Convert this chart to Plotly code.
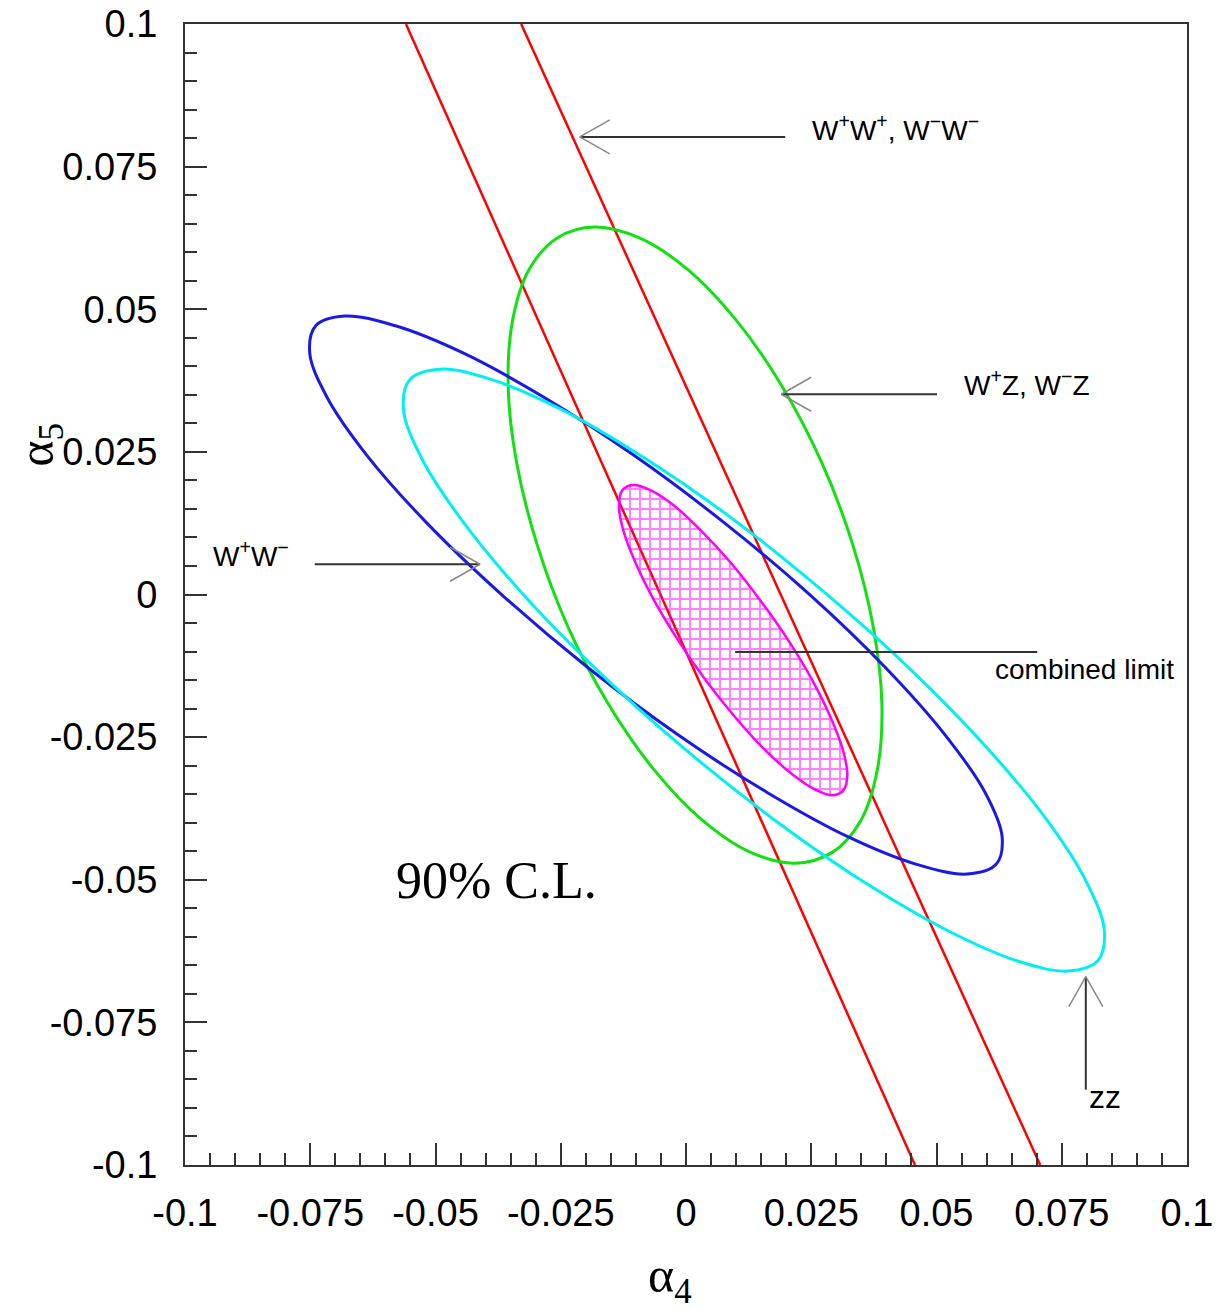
import plotly.graph_objects as go

# ---------------- data ----------------
# W+W+, W-W- band: two straight red lines
red_left_x = [-0.0559, 0.0457]
red_left_y = [0.1, -0.1]
red_right_x = [-0.0329, 0.0707]
red_right_y = [0.1, -0.1]

# W+Z, W-Z contour (green)
green_x = [-0.0182, -0.0093, 0.0003, 0.0100, 0.0191, 0.0271, 0.0333, 0.0374, 0.0391, 0.0382,
           0.0349, 0.0292, 0.0218, 0.0129, 0.0033, -0.0064, -0.0155, -0.0235, -0.0297, -0.0338,
           -0.0355, -0.0346, -0.0313, -0.0257]
green_y = [0.0644, 0.0625, 0.0570, 0.0481, 0.0366, 0.0231, 0.0087, -0.0058, -0.0192, -0.0307,
           -0.0396, -0.0452, -0.0471, -0.0452, -0.0396, -0.0307, -0.0192, -0.0058, 0.0087, 0.0231,
           0.0366, 0.0481, 0.0570, 0.0625]

# W+W- contour (blue)
blue_x = [-0.0681, -0.0580, -0.0444, -0.0282, -0.0104, 0.0076, 0.0248, 0.0398, 0.0517, 0.0597,
          0.0631, 0.0619, 0.0561, 0.0460, 0.0324, 0.0162, -0.0016, -0.0196, -0.0367, -0.0518,
          -0.0637, -0.0716, -0.0751, -0.0739]
blue_y = [0.0488, 0.0471, 0.0423, 0.0345, 0.0244, 0.0126, -0.0001, -0.0128, -0.0246, -0.0347,
          -0.0425, -0.0473, -0.0490, -0.0473, -0.0425, -0.0347, -0.0246, -0.0128, -0.0001, 0.0126,
          0.0244, 0.0345, 0.0423, 0.0471]

# ZZ contour (cyan)
cyan_x = [-0.0491, -0.0389, -0.0250, -0.0086, 0.0094, 0.0276, 0.0449, 0.0601, 0.0721, 0.0800,
          0.0835, 0.0822, 0.0762, 0.0660, 0.0522, 0.0357, 0.0178, -0.0005, -0.0178, -0.0329,
          -0.0449, -0.0529, -0.0564, -0.0551]
cyan_y = [0.0395, 0.0377, 0.0325, 0.0241, 0.0132, 0.0004, -0.0132, -0.0269, -0.0396, -0.0505,
          -0.0589, -0.0642, -0.0660, -0.0642, -0.0589, -0.0505, -0.0396, -0.0269, -0.0132, 0.0004,
          0.0132, 0.0241, 0.0325, 0.0377]

# combined limit (magenta, hatched)
comb_x = [-0.0106, -0.0071, -0.0024, 0.0030, 0.0089, 0.0148, 0.0204, 0.0252, 0.0289, 0.0313,
          0.0322, 0.0315, 0.0293, 0.0258, 0.0212, 0.0157, 0.0099, 0.0039, -0.0016, -0.0064,
          -0.0101, -0.0125, -0.0134, -0.0127]
comb_y = [0.0192, 0.0183, 0.0156, 0.0112, 0.0056, -0.0010, -0.0080, -0.0150, -0.0216, -0.0272,
          -0.0315, -0.0342, -0.0352, -0.0342, -0.0315, -0.0272, -0.0216, -0.0150, -0.0080, -0.0010,
          0.0056, 0.0112, 0.0156, 0.0183]

tick_vals = [-0.1, -0.075, -0.05, -0.025, 0, 0.025, 0.05, 0.075, 0.1]
tick_text = ["-0.1", "-0.075", "-0.05", "-0.025", "0", "0.025", "0.05", "0.075", "0.1"]

# ---------------- figure ----------------
fig = go.Figure()

def closed(v):
    return list(v) + [v[0]]

fig.add_trace(go.Scatter(x=red_left_x, y=red_left_y, mode="lines",
                         line=dict(color="#ff0000", width=2.5), hoverinfo="skip"))
fig.add_trace(go.Scatter(x=red_right_x, y=red_right_y, mode="lines",
                         line=dict(color="#ff0000", width=2.5), hoverinfo="skip"))
fig.add_trace(go.Scatter(x=closed(green_x), y=closed(green_y), mode="lines",
                         line=dict(color="#11e011", width=3, shape="spline", smoothing=1.0)))
fig.add_trace(go.Scatter(x=closed(blue_x), y=closed(blue_y), mode="lines",
                         line=dict(color="#1a1ae6", width=3, shape="spline", smoothing=1.0)))
fig.add_trace(go.Scatter(x=closed(cyan_x), y=closed(cyan_y), mode="lines",
                         line=dict(color="#00f0f0", width=3, shape="spline", smoothing=1.0)))
fig.add_trace(go.Scatter(x=closed(comb_x), y=closed(comb_y), mode="lines",
                         line=dict(color="#ff00ff", width=2.5, shape="spline", smoothing=1.0),
                         fill="toself", fillcolor="rgba(0,0,0,0)",
                         fillpattern=dict(shape="+", size=10, solidity=0.35,
                                          fgcolor="#ff00ff", bgcolor="rgba(0,0,0,0)")))

# ---------------- annotations ----------------
lab_font = dict(family="Liberation Sans, Arial", size=28, color="#000000")
annotations = [
    dict(x=0.0248, y=0.0818, text="W<sup>+</sup>W<sup>+</sup>, W<sup>−</sup>W<sup>−</sup>",
         xanchor="left", yanchor="middle"),
    dict(x=0.0551, y=0.0371, text="W<sup>+</sup>Z, W<sup>−</sup>Z", xanchor="left", yanchor="middle"),
    dict(x=-0.0948, y=0.0071, text="W<sup>+</sup>W<sup>−</sup>", xanchor="left", yanchor="middle"),
    dict(x=0.0613, y=-0.0132, text="combined limit", xanchor="left", yanchor="middle"),
]
ann = []
for a in annotations:
    a.update(xref="x", yref="y", showarrow=False, font=lab_font)
    ann.append(a)
ann.append(dict(x=0.0800, y=-0.0881, xref="x", yref="y", text="zz", showarrow=False,
                xanchor="left", yanchor="middle",
                font=dict(family="Liberation Sans, Arial", size=32, color="#000000")))
ann.append(dict(x=-0.0379, y=-0.0502, xref="x", yref="y", text="90% C.L.", showarrow=False,
                xanchor="center", yanchor="middle",
                font=dict(family="Liberation Serif, Times New Roman", size=52, color="#000000")))
ann.append(dict(x=0.484, y=-0.100, xref="paper", yref="paper", text="α<sub>4</sub>", showarrow=False,
                xanchor="center", yanchor="middle",
                font=dict(family="Liberation Serif, Times New Roman", size=50, color="#000000")))
ann.append(dict(x=-0.145, y=0.631, xref="paper", yref="paper", text="α<sub>5</sub>", showarrow=False,
                xanchor="center", yanchor="middle", textangle=-90,
                font=dict(family="Liberation Serif, Times New Roman", size=50, color="#000000")))

# arrows: shaft (data coords) + open chevron head (pixel offsets at the tip)
arrows = [
    # (tail_x, tail_y, tip_x, tip_y, barb1(dx,dy px), barb2)
    (0.0198, 0.0802, -0.0212, 0.0802, (30, 17), (30, -17)),
    (0.0501, 0.0351, 0.0190, 0.0351, (30, 17), (30, -17)),
    (-0.0741, 0.0053, -0.0411, 0.0053, (-30, 17), (-30, -17)),
    (0.0798, -0.0868, 0.0798, -0.0670, (17, -30), (-17, -30)),
]
shapes = []
for tx, ty, hx, hy, b1, b2 in arrows:
    shapes.append(dict(type="line", xref="x", yref="y", x0=tx, y0=ty, x1=hx, y1=hy,
                       line=dict(color="#333333", width=2)))
    for bx, by in (b1, b2):
        shapes.append(dict(type="line", xref="x", yref="y", xsizemode="pixel", ysizemode="pixel",
                           xanchor=hx, yanchor=hy, x0=0, y0=0, x1=bx, y1=by,
                           line=dict(color="#888888", width=1.5)))
# combined-limit pointer line (no head)
shapes.append(dict(type="line", xref="x", yref="y", x0=0.0098, y0=-0.0101, x1=0.0701, y1=-0.0101,
                   line=dict(color="#333333", width=2)))

axis_common = dict(
    range=[-0.1, 0.1], tickmode="array", tickvals=tick_vals, ticktext=tick_text,
    ticks="inside", ticklen=22, tickwidth=2, tickcolor="#333333",
    minor=dict(tickmode="linear", tick0=-0.1, dtick=0.005, ticks="inside", ticklen=12,
               tickwidth=2, tickcolor="#333333", showgrid=False),
    showline=True, linewidth=2, linecolor="#333333", mirror=True,
    showgrid=False, zeroline=False, automargin=False, ticklabeloverflow="allow",
    tickfont=dict(family="Liberation Sans, Arial", size=38, color="#000000"),
)

fig.update_layout(
    width=1229, height=1310,
    margin=dict(l=185, r=42, t=24, b=145, autoexpand=False),
    paper_bgcolor="white", plot_bgcolor="white",
    showlegend=False,
    xaxis=dict(**axis_common, ticklabelstandoff=13),
    yaxis=dict(**axis_common, ticklabelstandoff=18),
    annotations=ann,
    shapes=shapes,
)

fig.write_html("out.html", config={"displayModeBar": False},
               post_script="document.body.style.margin='0';document.body.style.overflow='hidden';")
